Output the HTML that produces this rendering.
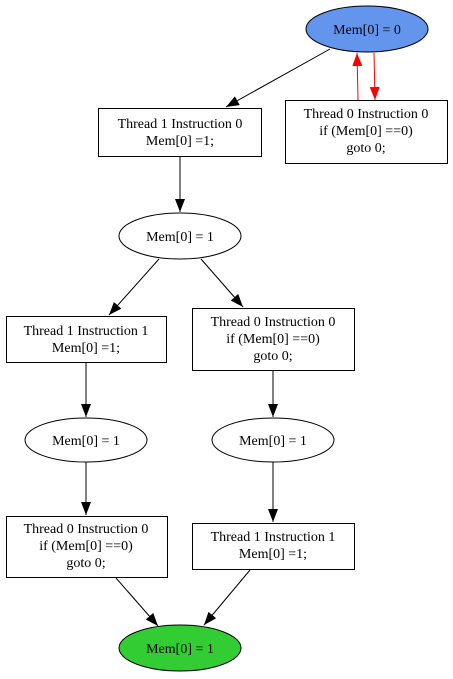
<!DOCTYPE html>
<html><head><style>html,body{margin:0;padding:0;background:#fff}svg{display:block}</style></head><body>
<svg width="453" height="679" viewBox="0 0 453 679" xmlns="http://www.w3.org/2000/svg" font-family="Liberation Serif, serif" font-size="14" text-anchor="middle">
<defs>
<marker id="a" markerWidth="13" markerHeight="10" refX="13" refY="5" orient="auto" markerUnits="userSpaceOnUse"><path d="M0,0L13,5L0,10z" fill="#000"/></marker>
<marker id="r" markerWidth="13" markerHeight="10" refX="13" refY="5" orient="auto" markerUnits="userSpaceOnUse"><path d="M0,0L13,5L0,10z" fill="red"/></marker>
</defs>
<g stroke="#000" fill="none">
<ellipse cx="367" cy="29" rx="61" ry="23" fill="#6495ED"/>
<rect x="98.5" y="108.5" width="163" height="48" fill="#fff"/>
<rect x="285.5" y="100.5" width="162" height="63" fill="#fff"/>
<ellipse cx="180" cy="236" rx="61" ry="23" fill="#fff"/>
<rect x="6.5" y="316.5" width="160" height="46" fill="#fff"/>
<rect x="192.5" y="308.5" width="162" height="62" fill="#fff"/>
<ellipse cx="86" cy="440" rx="61" ry="22" fill="#fff"/>
<ellipse cx="273" cy="440" rx="61" ry="22" fill="#fff"/>
<rect x="6.5" y="516.5" width="161" height="61" fill="#fff"/>
<rect x="192.5" y="523.5" width="162" height="46" fill="#fff"/>
<ellipse cx="180" cy="648" rx="61" ry="23" fill="#32CD32"/>
<line x1="330" y1="49" x2="226" y2="107" marker-end="url(#a)"/>
<line x1="358" y1="100" x2="357" y2="53" stroke="red" marker-end="url(#r)"/>
<line x1="374" y1="53" x2="375" y2="100" stroke="red" marker-end="url(#r)"/>
<line x1="180" y1="157" x2="180" y2="212" marker-end="url(#a)"/>
<line x1="159" y1="259" x2="109" y2="315" marker-end="url(#a)"/>
<line x1="201" y1="259" x2="243" y2="307" marker-end="url(#a)"/>
<line x1="86" y1="363" x2="86" y2="417" marker-end="url(#a)"/>
<line x1="273" y1="371" x2="273" y2="417" marker-end="url(#a)"/>
<line x1="86" y1="462" x2="86" y2="515" marker-end="url(#a)"/>
<line x1="273" y1="462" x2="273" y2="522" marker-end="url(#a)"/>
<line x1="116" y1="578" x2="158" y2="626" marker-end="url(#a)"/>
<line x1="250" y1="570" x2="204" y2="625" marker-end="url(#a)"/>
</g>
<g fill="#000">
<text x="367" y="34">Mem[0] = 0</text>
<text x="180" y="128">Thread 1 Instruction 0</text><text x="180" y="145">Mem[0] =1;</text>
<text x="366" y="118">Thread 0 Instruction 0</text><text x="366" y="135">if (Mem[0] ==0)</text><text x="366" y="152">goto 0;</text>
<text x="180" y="241">Mem[0] = 1</text>
<text x="86" y="335">Thread 1 Instruction 1</text><text x="86" y="352">Mem[0] =1;</text>
<text x="273" y="326">Thread 0 Instruction 0</text><text x="273" y="343">if (Mem[0] ==0)</text><text x="273" y="360">goto 0;</text>
<text x="86" y="445">Mem[0] = 1</text>
<text x="273" y="445">Mem[0] = 1</text>
<text x="86" y="533">Thread 0 Instruction 0</text><text x="86" y="550">if (Mem[0] ==0)</text><text x="86" y="567">goto 0;</text>
<text x="273" y="541">Thread 1 Instruction 1</text><text x="273" y="558">Mem[0] =1;</text>
<text x="180" y="653">Mem[0] = 1</text>
</g>
</svg>
</body></html>
